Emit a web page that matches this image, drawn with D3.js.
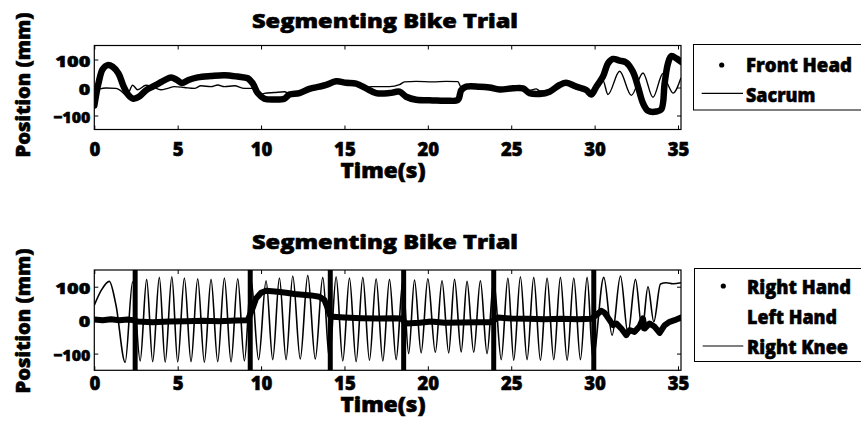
<!DOCTYPE html>
<html>
<head>
<meta charset="utf-8">
<script src="https://cdn.jsdelivr.net/npm/d3@7"></script>
<style>
  html, body { margin: 0; padding: 0; background: #fff; }
  svg { display: block; }
  text { font-family: "Open Sans", Lato, sans-serif; font-weight: 800; fill: #000;
         stroke: #000; stroke-width: 0.55px; paint-order: stroke; }
</style>
</head>
<body>
<svg id="chart" width="861" height="426"></svg>
<script>
// ---- data -------------------------------------------------------------
const xTicks = [0, 5, 10, 15, 20, 25, 30, 35];
const yTicks = [-100, 0, 100];

// top panel: [time (s), position (mm)]
const frontHead = [
  [0.0,-65],[0.1,-30],[0.25,15],[0.5,65],[0.8,80],[1.1,74],[1.45,50],[1.75,5],
  [2.05,-27],[2.35,-40],[2.7,-32],[3.1,-10],[3.5,3],[3.85,14],[4.25,27],[4.6,36],
  [4.95,27],[5.25,16],[5.65,27],[6.2,36],[7.0,41],[7.8,44],[8.6,39],[9.2,33],
  [9.5,15],[9.8,-20],[10.2,-40],[10.8,-43],[11.4,-40],[11.7,-25],[12.3,-20],[12.9,-5],
  [13.5,3],[13.9,9],[14.5,22],[15.1,17],[15.7,14],[16.3,-3],[16.9,-20],[17.7,-20],
  [18.3,-15],[18.7,-33],[19.3,-44],[20.3,-46],[21.1,-47],[21.8,-44],[22.0,-10],[22.3,3],
  [23.1,3],[23.7,0],[24.3,-7],[25.1,-3],[25.7,-3],[26.1,-20],[26.7,-23],[27.3,-15],
  [27.9,9],[28.3,17],[28.9,3],[29.5,-9],[29.8,-25],[30.1,3],[30.5,39],[30.8,86],
  [31.1,102],[31.5,96],[31.9,89],[32.3,56],[32.6,3],[32.9,-56],[33.2,-83],[33.7,-86],
  [34.0,-78],[34.2,15],[34.4,86],[34.6,112],[34.9,104],[35.18,92]
];
const sacrum = [
  [0.0,-40],[0.15,-15],[0.35,-5],[0.7,-2],[1.3,-3],[1.6,-12],[1.95,-30],[2.3,8],
  [2.6,-8],[3.1,8],[3.5,2],[4.0,-8],[4.4,-3],[4.8,3],[5.4,0],[6.0,-3],[6.4,6],
  [7.0,3],[7.4,9],[7.8,3],[8.4,6],[9.0,-3],[9.5,-3],[9.9,-27],[10.2,-21],[10.8,-18],
  [11.4,-15],[11.7,-22],[12.3,-20],[12.9,-5],[13.5,3],[13.9,9],[14.5,24],[15.1,19],
  [15.7,16],[16.3,0],[16.6,3],[17.7,3],[18.3,10],[18.6,20],[19.3,22],[20.3,20],
  [21.1,22],[21.8,21],[22.0,0],[22.3,3],[23.1,5],[23.7,2],[24.3,-3],[25.1,0],
  [25.7,-2],[26.1,-10],[26.5,-5],[26.7,-12],[27.3,-12],[27.9,8],[28.3,15],[28.9,3],
  [29.5,-5],[29.8,-12],[30.2,5],[30.5,25],[30.8,-25],[31.5,58],[32.2,-28],[32.9,52],
  [33.5,-35],[34.1,50],[34.4,10],[34.7,-20],[35.18,35]
];

// bottom panel: [time (s), position (mm)]
const rightHand = [
  [0,2],[0.5,0],[1.0,3],[1.5,0],[2.0,2],[2.3,0],
  [2.6,-4],[3.5,-6],[4.5,-4],[5.5,-3],[6.5,-2],[7.5,-3],[8.5,-1],[9.2,0],
  [9.45,30],[9.7,65],[10.0,82],[10.3,88],[11.0,85],[11.5,82],[12.0,78],[12.5,76],
  [13.0,74],[13.5,70],[13.8,60],[14.0,35],[14.15,12],
  [14.3,10],[15,8],[16,6],[17,5],[18,6],[18.4,5],
  [18.7,-10],[19.5,-8],[20.2,-4],[21,-8],[22,-7],[23,-6],[23.8,-6],
  [24.2,8],[25,5],[26,4],[27,3],[28,4],[29,3],[29.8,4],
  [30.1,15],[30.4,28],[30.6,22],[30.9,0],[31.1,-15],[31.3,-10],[31.6,-25],[31.9,-45],
  [32.1,-30],[32.4,-35],[32.7,-18],[32.9,5],[33.0,-25],[33.3,-10],[33.6,-20],[33.9,-38],
  [34.2,-15],[34.5,-5],[34.8,0],[35.18,8]
];
const rightKnee = [
  [0,45],[0.45,92],[0.9,116],[1.3,45],[1.85,-126],[2.3,115],[2.75,-122],
  [3.14,122],[3.5,-124],[3.9,128],[4.25,-126],[4.65,130],[5.0,-125],[5.4,126],[5.8,-124],
  [6.2,124],[6.6,-126],[7.0,122],[7.4,-124],[7.8,126],[8.2,-125],[8.6,124],[9.0,-122],[9.4,120],
  [9.85,-118],[10.3,118],[10.7,-118],[11.1,126],[11.5,-118],[11.9,132],[12.35,-116],[12.8,134],
  [13.25,-116],[13.7,128],[14.1,-118],
  [14.5,130],[14.9,-122],[15.3,126],[15.7,-124],[16.1,128],[16.5,-120],[16.9,124],[17.3,-122],
  [17.7,122],[18.1,-118],[18.5,118],
  [18.85,-100],[19.2,120],[19.6,-98],[20.0,124],[20.45,-96],[20.85,118],[21.25,-98],[21.6,122],
  [22.0,-95],[22.35,116],[22.75,-96],[23.15,118],[23.55,-100],[23.95,120],
  [24.4,-118],[24.8,126],[25.15,-120],[25.55,130],[25.95,-118],[26.35,128],[26.75,-120],[27.15,126],
  [27.55,-118],[27.95,128],[28.35,-120],[28.75,126],[29.15,-118],[29.55,128],[29.9,-116],
  [30.55,128],[31.05,-45],[31.55,132],[32.0,-40],[32.45,122],[32.85,-30],[33.2,100],[33.55,-5],
  [33.95,108],[34.3,112],[34.7,109],[35.18,112]
];
// segment boundaries between pedalling bouts (s)
const segmentBounds = [2.45, 9.35, 14.15, 18.55, 23.95, 29.95];

const titles = ["Segmenting Bike Trial", "Segmenting Bike Trial"];
const topLegend = ["Front Head", "Sacrum"];
const bottomLegend = ["Right Hand", "Left Hand", "Right Knee"];

// ---- layout -----------------------------------------------------------
const svg = d3.select("#chart");
const x = d3.scaleLinear().domain([0, 35.18]).range([94.3, 681]);

const panels = [
  { y: d3.scaleLinear().domain([-150, 150]).range([129.5, 45.5]),
    title: titles[0], titleY: 27.5, tickY: 26, xlabY: 178, ylabY: 85 },
  { y: d3.scaleLinear().domain([-150, 150]).range([370.3, 270]),
    title: titles[1], titleY: 248.5, tickY: 19.7, xlabY: 411.7, ylabY: 321 }
];

function label(g, str, o) {
  const t = g.append("text")
    .attr("transform", `translate(${o.x},${o.y}) rotate(${o.rot || 0})`)
    .attr("font-size", o.size)
    .attr("text-anchor", o.anchor || "start")
    .text(str);
  if (o.len) t.attr("textLength", o.len).attr("lengthAdjust", "spacingAndGlyphs");
  return t;
}

panels.forEach((p, i) => {
  const g = svg.append("g");
  const [y0, y1] = p.y.range();
  const [x0, x1] = x.range();

  const clipId = "clip" + i;
  svg.append("clipPath").attr("id", clipId)
    .append("rect").attr("x", x0).attr("y", y1).attr("width", x1 - x0).attr("height", y0 - y1);

  const plot = g.append("g").attr("clip-path", `url(#${clipId})`);
  const line = d3.line().x(d => x(d[0])).y(d => p.y(d[1]));

  if (i === 0) {
    plot.append("path").datum(sacrum)
      .attr("d", line.curve(d3.curveMonotoneX))
      .attr("fill", "none").attr("stroke", "#000").attr("stroke-width", 1.4);
    plot.append("path").datum(frontHead)
      .attr("d", line.curve(d3.curveCatmullRom))
      .attr("fill", "none").attr("stroke", "#000").attr("stroke-width", 6.5)
      .attr("stroke-linejoin", "round").attr("stroke-linecap", "round");
  } else {
    plot.append("path").datum(rightKnee)
      .attr("d", line.curve(d3.curveMonotoneX))
      .attr("fill", "none").attr("stroke", "#000").attr("stroke-width", 1.6);
    plot.append("path").datum(rightHand)
      .attr("d", line.curve(d3.curveLinear))
      .attr("fill", "none").attr("stroke", "#000").attr("stroke-width", 6)
      .attr("stroke-linejoin", "round").attr("stroke-linecap", "round");
    plot.selectAll("line.seg").data(segmentBounds).join("line")
      .attr("class", "seg")
      .attr("x1", d => x(d)).attr("x2", d => x(d))
      .attr("y1", y1).attr("y2", y0)
      .attr("stroke", "#000").attr("stroke-width", 5);
  }

  // axes with inward ticks on all four sides
  const ax = g.append("g").attr("transform", `translate(0,${y0})`)
    .call(d3.axisBottom(x).tickValues(xTicks).tickSize(-4).tickFormat(d3.format("d")));
  ax.selectAll("text").attr("dy", null).attr("y", p.tickY).attr("font-size", 18.5);
  g.append("g").attr("transform", `translate(0,${y1})`)
    .call(d3.axisTop(x).tickValues(xTicks).tickSize(-4).tickFormat(""));
  const ay = g.append("g").attr("transform", `translate(${x0},0)`)
    .call(d3.axisLeft(p.y).tickValues(yTicks).tickSize(-4).tickPadding(4).tickFormat(d3.format("d")));
  ay.selectAll("text").attr("font-size", 16.4).attr("y", 1.5)
    .attr("textLength", d => d === 0 ? 11.5 : (d < 0 ? 37 : 35))
    .attr("lengthAdjust", "spacingAndGlyphs");
  g.append("g").attr("transform", `translate(${x1},0)`)
    .call(d3.axisRight(p.y).tickValues(yTicks).tickSize(-4).tickFormat(""));
  g.selectAll(".domain").remove();
  g.selectAll(".tick line").attr("stroke", "#000").attr("stroke-width", 1);
  g.selectAll(".tick text").attr("fill", "#000").style("font-family", null);

  g.append("rect").attr("x", x0).attr("y", y1).attr("width", x1 - x0).attr("height", y0 - y1)
    .attr("fill", "none").attr("stroke", "#000").attr("stroke-width", 1.2);

  label(g, p.title, { x: 385, y: p.titleY, size: 19.5, anchor: "middle", len: 266 });
  label(g, "Time(s)", { x: 383, y: p.xlabY, size: 20.5, anchor: "middle", len: 85 });
  label(g, "Position (mm)", { x: 30, y: p.ylabY, size: 19.6, anchor: "middle", len: 145, rot: -90 });
});

// ---- legends ----------------------------------------------------------
const lg1 = svg.append("g");
lg1.append("rect").attr("x", 693.5).attr("y", 44.5).attr("width", 220).attr("height", 65.5)
  .attr("fill", "#fff").attr("stroke", "#000").attr("stroke-width", 1);
lg1.append("circle").attr("cx", 721.7).attr("cy", 65).attr("r", 2.6).attr("fill", "#000");
lg1.append("line").attr("x1", 701.7).attr("x2", 743).attr("y1", 93.3).attr("y2", 93.3)
  .attr("stroke", "#000").attr("stroke-width", 1.2);
label(lg1, topLegend[0], { x: 746, y: 71.7, size: 20, len: 106 });
label(lg1, topLegend[1], { x: 746, y: 102.3, size: 20, len: 69.5 });

const lg2 = svg.append("g");
lg2.append("rect").attr("x", 694.5).attr("y", 268.5).attr("width", 220).attr("height", 93)
  .attr("fill", "#fff").attr("stroke", "#000").attr("stroke-width", 1);
lg2.append("circle").attr("cx", 723.3).attr("cy", 286).attr("r", 2.6).attr("fill", "#000");
lg2.append("line").attr("x1", 702.7).attr("x2", 743.3).attr("y1", 346).attr("y2", 346)
  .attr("stroke", "#000").attr("stroke-width", 1.2);
label(lg2, bottomLegend[0], { x: 747, y: 294, size: 20, len: 104 });
label(lg2, bottomLegend[1], { x: 747, y: 324, size: 20, len: 90 });
label(lg2, bottomLegend[2], { x: 747, y: 354, size: 20, len: 101 });
</script>
</body>
</html>
